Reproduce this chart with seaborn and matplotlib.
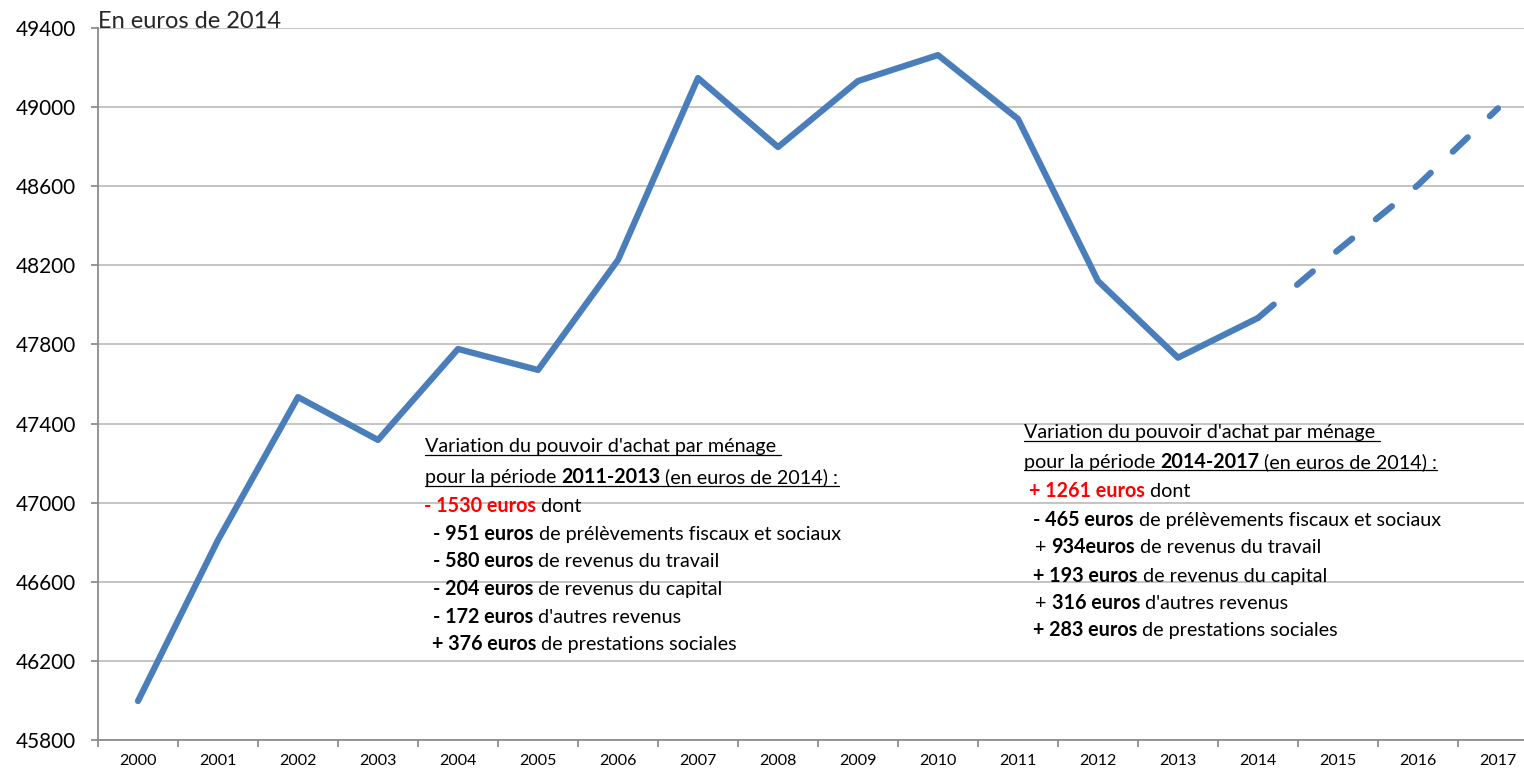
import matplotlib
matplotlib.use('Agg')
import matplotlib.pyplot as plt
from matplotlib.lines import Line2D
import seaborn as sns
import pandas as pd

# Données
annees = [2000, 2001, 2002, 2003, 2004, 2005, 2006, 2007, 2008,
          2009, 2010, 2011, 2012, 2013, 2014, 2015, 2016, 2017]
annees_observees = [2000, 2001, 2002, 2003, 2004, 2005, 2006, 2007,
                    2008, 2009, 2010, 2011, 2012, 2013, 2014]
revenu_observe = [45997, 46811, 47534, 47317, 47777, 47671, 48227, 49147,
                  48798, 49132, 49263, 48940, 48121, 47733, 47934]
annees_prevision = [2014, 2015, 2016, 2017]
revenu_prevision = [47934, 48277, 48606, 48994]
graduations_y = [45800, 46200, 46600, 47000, 47400, 47800, 48200, 48600, 49000, 49400]

# Encadrés de texte : (texte, gras, couleur)
bloc_2011_2013 = [
    [("Variation du pouvoir d'achat par ménage ", False, 'black')],
    [("pour la période ", False, 'black'), ("2011-2013", True, 'black'),
     (" (en euros de 2014) :", False, 'black')],
    [("- 1530 euros", True, 'red'), (" dont", False, 'black')],
    [("- 951 euros", True, 'black'), (" de prélèvements fiscaux et sociaux", False, 'black')],
    [("- 580 euros", True, 'black'), (" de revenus du travail", False, 'black')],
    [("- 204 euros", True, 'black'), (" de revenus du capital", False, 'black')],
    [("- 172 euros", True, 'black'), (" d'autres revenus", False, 'black')],
    [("+ 376 euros", True, 'black'), (" de prestations sociales", False, 'black')],
]
bloc_2014_2017 = [
    [("Variation du pouvoir d'achat par ménage ", False, 'black')],
    [("pour la période ", False, 'black'), ("2014-2017", True, 'black'),
     (" (en euros de 2014) :", False, 'black')],
    [("+ 1261 euros", True, 'red'), (" dont", False, 'black')],
    [("- 465 euros", True, 'black'), (" de prélèvements fiscaux et sociaux", False, 'black')],
    [("+ ", False, 'black'), ("934euros", True, 'black'), (" de revenus du travail", False, 'black')],
    [("+ 193 euros", True, 'black'), (" de revenus du capital", False, 'black')],
    [("+ ", False, 'black'), ("316 euros", True, 'black'), (" d'autres revenus", False, 'black')],
    [("+ 283 euros", True, 'black'), (" de prestations sociales", False, 'black')],
]

W, H = 1524, 771
bleu = '#4a7ebb'
gris = '#bfbfbf'

sns.set_style('white')
plt.rcParams['font.family'] = ['Lato', 'DejaVu Sans']

fig = plt.figure(figsize=(W / 100, H / 100), dpi=100)
rend = fig.canvas.get_renderer()


def taille_pour(texte, largeur, gras=False):
    """Taille de police pour qu'un texte occupe la largeur voulue (pixels)."""
    t = fig.text(0, 0, texte, fontsize=10, fontweight='bold' if gras else 'normal')
    w = t.get_window_extent(rend).width
    t.remove()
    return 10 * largeur / w


taille_y = taille_pour('49400', 60)
taille_x = taille_pour('2000', 37)
taille_titre = taille_pour('En euros de 2014', 184)
taille_bloc = taille_pour("Variation du pouvoir d'achat par ménage", 353)

ax = fig.add_axes([98 / W, 31 / H, 1440 / W, 712 / H])

df_obs = pd.DataFrame({'annee': annees_observees, 'revenu': revenu_observe})
df_prev = pd.DataFrame({'annee': annees_prevision, 'revenu': revenu_prevision})

sns.lineplot(data=df_obs, x='annee', y='revenu', color=bleu, lw=4.5, ax=ax,
             solid_capstyle='round', solid_joinstyle='round', zorder=3)
sns.lineplot(data=df_prev, x='annee', y='revenu', color=bleu, lw=4.5, ax=ax,
             linestyle=(0, (3.3, 4.9)), dash_capstyle='round', zorder=3)

ax.set_xlim(1999.5, 2017.5)
ax.set_ylim(45800, 49400)
ax.set_yticks(graduations_y)
ax.set_yticklabels([str(v) for v in graduations_y])
ax.set_xticks(annees)
ax.set_xticklabels([str(a) for a in annees])
ax.set_xticks([a - 0.5 for a in annees] + [2017.5], minor=True)
ax.grid(axis='y', color=gris, lw=1.3)
ax.set_axisbelow(True)
ax.set_xlabel('')
ax.set_ylabel('')

for cote in ['top', 'right']:
    ax.spines[cote].set_visible(False)
for cote in ['left', 'bottom']:
    ax.spines[cote].set_color('#8c8c8c')
    ax.spines[cote].set_linewidth(1.3)

ax.tick_params(axis='y', which='major', length=5, width=1.3, color='#8c8c8c',
               labelsize=taille_y, pad=11, left=True, labelcolor='black')
ax.tick_params(axis='x', which='major', length=0, labelsize=taille_x, pad=10,
               labelcolor='black')
ax.tick_params(axis='x', which='minor', length=5, width=1.3, color='#8c8c8c',
               bottom=True, direction='out')

fig.text(98 / W, 1 - 21 / H, 'En euros de 2014', fontsize=taille_titre,
         va='center', ha='left')


def ecrire_bloc(bloc, x0, lignes_y, retraits, taille):
    """Écrit un bloc de lignes composées de segments gras/normaux (même ligne de base)."""
    lignes = []
    for ligne, y, dx in zip(bloc, lignes_y, retraits):
        segs = []
        for txt, gras, coul in ligne:
            segs.append(fig.text((x0 + dx) / W, 1 - (y + 5) / H, txt, fontsize=taille,
                                 fontweight='bold' if gras else 'normal', color=coul,
                                 va='baseline', ha='left'))
        lignes.append(segs)
    return lignes


y_bloc1 = [447, 478, 507, 535, 562, 590, 618, 645]
y_bloc2 = [433, 463, 492, 521, 548, 577, 604, 631]
bloc1 = ecrire_bloc(bloc_2011_2013, 425, y_bloc1, [0, 0, -1, 8, 8, 8, 8, 7], taille_bloc)
bloc2 = ecrire_bloc(bloc_2014_2017, 1024, y_bloc2, [0, 0, 5, 9, 11, 9, 11, 9], taille_bloc)

# Enchaîner les segments d'une même ligne puis souligner les deux premières lignes
fig.canvas.draw()
inv = fig.transFigure.inverted()
for bloc in (bloc1, bloc2):
    for i, segs in enumerate(bloc):
        for a, b in zip(segs[:-1], segs[1:]):
            bb = a.get_window_extent(rend)
            x1, _ = inv.transform((bb.x1, bb.y0))
            b.set_x(x1)
        if i < 2:
            bb0 = segs[0].get_window_extent(rend)
            bbn = segs[-1].get_window_extent(rend)
            xa, _ = inv.transform((bb0.x0, 0))
            xb, _ = inv.transform((bbn.x1, 0))
            yl = segs[0].get_position()[1] - 2.5 / H
            fig.add_artist(Line2D([xa, xb], [yl, yl], transform=fig.transFigure,
                                  color='black', lw=0.9))

fig.savefig('out.png', dpi=100)
